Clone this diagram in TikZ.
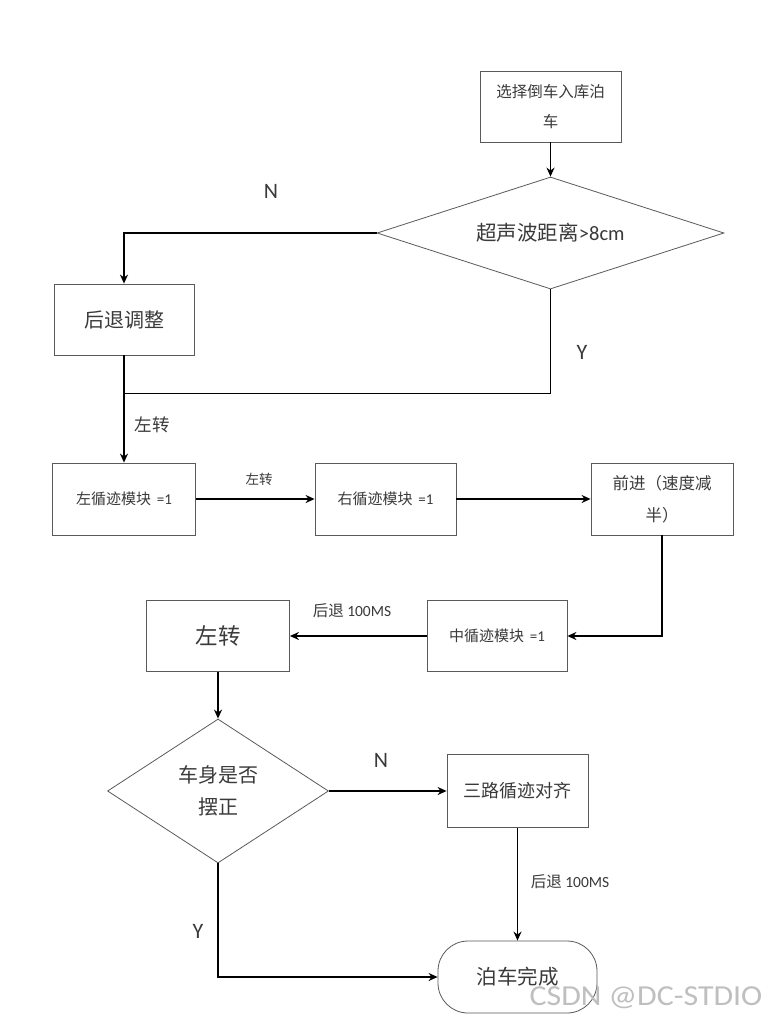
\documentclass[tikz,border=0pt]{standalone}
\usepackage{fontspec}
\setmainfont{Carlito}
\newfontfamily\cjk{Noto Sans CJK SC}
\usetikzlibrary{shapes.geometric,arrows.meta}
\definecolor{txt}{HTML}{3A3A3A}
\definecolor{bord}{HTML}{5A5A5A}
\tikzset{
  box/.style={draw=bord,line width=0.8pt,rectangle,inner sep=0pt,align=center,text=txt},
  dia/.style={draw=bord,line width=0.8pt,diamond,inner sep=0pt,align=center,text=txt},
  term/.style={draw=bord,line width=0.8pt,rectangle,rounded corners=30pt,inner sep=0pt,align=center,text=txt},
  line/.style={draw=black,line width=1.4pt},
  arr/.style={line,-{Stealth[length=9pt,width=8pt]}},
  lab/.style={text=txt,inner sep=0pt},
}
\begin{document}
\begin{tikzpicture}[x=1pt,y=-1pt]
\useasboundingbox[fill=white] (0,0) rectangle (783,1021);
% nodes
\node[box,minimum width=141pt,minimum height=71pt,font=\fontsize{15.5}{30}\selectfont] (start) at (550.5,106.5) {{\cjk 选择倒车入库泊}\\{\cjk 车}};
\node[dia,aspect=3.1,minimum width=347pt,minimum height=112pt,font=\fontsize{20.5}{24}\selectfont] (d1) at (550.5,233) {{\cjk 超声波距离}>8cm};
\node[box,minimum width=140pt,minimum height=71pt,font=\fontsize{20}{24}\selectfont] (back) at (124,319.5) {\cjk 后退调整};
\node[box,minimum width=143pt,minimum height=72pt,font=\fontsize{15}{16}\selectfont] (left) at (124,499) {{\cjk 左循迹模块} \,=1};
\node[box,minimum width=141pt,minimum height=72pt,font=\fontsize{15}{16}\selectfont] (right) at (385.5,499) {{\cjk 右循迹模块} \,=1};
\node[box,minimum width=142pt,minimum height=72pt,font=\fontsize{16.5}{32}\selectfont] (fwd) at (662,499) {{\cjk 前进（速度减}\\{\cjk 半）}};
\node[box,minimum width=140pt,minimum height=71pt,font=\fontsize{15}{16}\selectfont] (mid) at (497,636) {{\cjk 中循迹模块} \,=1};
\node[box,minimum width=143pt,minimum height=71pt,font=\fontsize{22.5}{26}\selectfont] (turn) at (218,636) {\cjk 左转};
\node[dia,aspect=1.53,minimum width=221pt,minimum height=144pt,font=\fontsize{20}{32}\selectfont] (d2) at (218,791) {{\cjk 车身是否}\\{\cjk 摆正}};
\node[box,minimum width=141pt,minimum height=73pt,font=\fontsize{18}{22}\selectfont] (three) at (517.5,791) {\cjk 三路循迹对齐};
\node[term,minimum width=159pt,minimum height=72pt,font=\fontsize{20.5}{22}\selectfont] (done) at (517.5,977) {\cjk 泊车完成};
% labels
\node[lab,font=\fontsize{22}{24}\selectfont] (n1) at (271,191) {N};
\node[lab,font=\fontsize{22}{24}\selectfont] (y1) at (582,352) {Y};
\node[lab,font=\fontsize{17.5}{20}\selectfont] (l1) at (152,425) {\cjk 左转};
\node[lab,font=\fontsize{13.5}{16}\selectfont] (l2) at (259,479) {\cjk 左转};
\node[lab,font=\fontsize{15.5}{16}\selectfont] (l3) at (352,611) {{\cjk 后退} 100MS};
\node[lab,font=\fontsize{22}{24}\selectfont] (n2) at (381,760) {N};
\node[lab,font=\fontsize{15.5}{16}\selectfont] (l4) at (570,882) {{\cjk 后退} 100MS};
\node[lab,font=\fontsize{22}{24}\selectfont] (y2) at (198,931) {Y};
\node[lab,text=black!25,xscale=1.1,font=\fontsize{29}{30}\selectfont] (wm) at (646,998) {CSDN @DC-STDIO};
% connectors
\path (back.south) ++(0,38) coordinate (j);
\draw[arr] (start) -- (d1);
\draw[arr] (d1.west) -| (back.north);
\draw[line] (d1.south) |- (j);
\draw[arr] (back) -- (left);
\draw[arr] (left) -- (right);
\draw[arr] (right) -- (fwd);
\draw[arr] (fwd.south) |- (mid.east);
\draw[arr] (mid) -- (turn);
\draw[arr] (turn) -- (d2);
\draw[arr] (d2.east) -- (three.west);
\draw[arr] (three) -- (done);
\draw[arr] (d2.south) |- (done.west);
\end{tikzpicture}
\end{document}
